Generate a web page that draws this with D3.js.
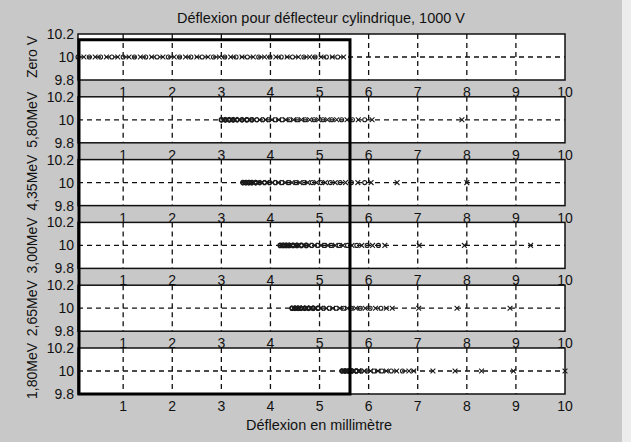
<!DOCTYPE html>
<html><head><meta charset="utf-8">
<script src="https://cdn.jsdelivr.net/npm/d3@7"></script>
<style>html,body{margin:0;padding:0;background:#c8c8c8;}svg{display:block;}</style>
</head><body>
<svg id="chart" width="631" height="442"></svg>
<script>
// ---- data ----
const panelLabels = ["Zero V", "5,80MeV", "4,35MeV", "3,00MeV", "2,65MeV", "1,80MeV"];
const xTicks = [1,2,3,4,5,6,7,8,9,10];
const yTicks = [9.8, 10, 10.2];
const yTickLabels = ["9.8", "10", "10.2"];
const xDomain = [0.08, 10];
const yDomain = [9.8, 10.2];
const yValue = 10;
const zeroV = [0.08,0.2,0.31,0.43,0.54,0.66,0.77,0.89,1.0,1.12,1.23,1.35,1.46,1.58,1.69,1.81,1.92,2.04,2.15,2.27,2.38,2.5,2.61,2.73,2.84,2.96,3.07,3.19,3.3,3.42,3.53,3.65,3.76,3.88,3.99,4.11,4.22,4.34,4.45,4.57,4.68,4.8,4.91,5.03,5.14,5.26,5.37,5.49];
const mev580 = [3.0,3.04,3.08,3.12,3.16,3.2,3.24,3.28,3.32,3.37,3.42,3.47,3.52,3.57,3.62,3.67,3.72,3.78,3.84,3.9,3.96,4.03,4.1,4.17,4.24,4.31,4.39,4.47,4.55,4.63,4.71,4.8,4.89,4.98,5.07,5.16,5.25,5.35,5.45,5.56,5.67,5.79,5.92,6.07,7.9];
const mev435 = [3.44,3.47,3.5,3.53,3.56,3.59,3.62,3.66,3.7,3.74,3.78,3.83,3.88,3.93,3.98,4.04,4.1,4.16,4.23,4.3,4.37,4.44,4.52,4.6,4.68,4.76,4.85,4.94,5.03,5.12,5.22,5.32,5.42,5.53,5.65,5.78,5.92,6.05,6.58,8.0];
const mev300 = [4.2,4.23,4.26,4.29,4.32,4.35,4.38,4.42,4.46,4.5,4.54,4.58,4.63,4.68,4.73,4.78,4.84,4.9,4.96,5.03,5.1,5.17,5.24,5.32,5.4,5.48,5.57,5.66,5.76,5.86,5.97,6.08,6.2,6.33,7.03,7.95,9.3];
const mev265 = [4.44,4.47,4.5,4.53,4.56,4.59,4.62,4.66,4.7,4.74,4.78,4.82,4.87,4.92,4.97,5.02,5.08,5.14,5.2,5.27,5.34,5.41,5.49,5.57,5.65,5.74,5.83,5.93,6.03,6.14,6.25,6.36,6.48,7.02,7.8,8.88];
const mev180 = [5.46,5.49,5.52,5.55,5.58,5.62,5.66,5.7,5.75,5.8,5.85,5.91,5.97,6.04,6.11,6.19,6.27,6.36,6.46,6.57,6.69,6.82,6.92,7.31,7.76,8.3,8.95,10.0];
const series = [zeroV, mev580, mev435, mev300, mev265, mev180];
const boxX = [0.08, 5.6];     // hand-drawn annotation box (data units)
const boxYTop = 10.15;         // in first panel
const boxYBottom = 9.8;        // in last panel
const title = "Déflexion pour déflecteur cylindrique, 1000 V";
const xLabel = "Déflexion en millimètre";

// ---- layout ----
const svg = d3.select("#chart");
const W = 631, H = 442;
const left = 78, right = 565, top0 = 34, step = 62.8, ph = 46;
const font = "Arial, 'Liberation Sans', Helvetica, sans-serif";

svg.append("rect").attr("width",W).attr("height",H).attr("fill","#c8c8c8");
svg.append("rect").attr("x",622).attr("width",W-622).attr("height",H).attr("fill","#ececec");

const x = d3.scaleLinear().domain(xDomain).range([left, right]);

let yScales = [];
series.forEach((data, i) => {
  const pt = top0 + i*step, pb = pt + ph;
  const y = d3.scaleLinear().domain(yDomain).range([pb, pt]);
  yScales.push(y);
  const g = svg.append("g");
  g.append("rect").attr("x",left).attr("y",pt).attr("width",right-left).attr("height",ph).attr("fill","#fff");
  // vertical grid
  g.selectAll(".vg").data(xTicks.filter(t => t < 10)).enter().append("line")
    .attr("x1",d=>x(d)).attr("x2",d=>x(d)).attr("y1",pt).attr("y2",pb)
    .attr("stroke","#111").attr("stroke-width",1.3).attr("stroke-dasharray","5,4");
  // horizontal grid at 10
  g.append("line").attr("x1",left).attr("x2",right).attr("y1",y(yValue)).attr("y2",y(yValue))
    .attr("stroke","#111").attr("stroke-width",1.3).attr("stroke-dasharray","5,4");
  // markers
  const mg = g.append("g");
  data.forEach((v, j) => {
    const cx = x(v), cy = y(yValue);
    const gap = (j+1 < data.length) ? data[j+1]-v : 1;
    const dense = gap < 0.2 && (j % 2 === 0);
    const sw = gap < 0.05 ? 1.6 : 1.1;
    if (dense) {
      mg.append("circle").attr("cx",cx).attr("cy",cy).attr("r",2).attr("fill","none").attr("stroke","#1a1a1a").attr("stroke-width",sw);
    } else {
      const s = 2.4;
      mg.append("path").attr("d",`M${cx-s},${cy-s}L${cx+s},${cy+s}M${cx-s},${cy+s}L${cx+s},${cy-s}`)
        .attr("stroke","#1a1a1a").attr("stroke-width",sw);
    }
  });
  // border
  g.append("rect").attr("x",left).attr("y",pt).attr("width",right-left).attr("height",ph)
    .attr("fill","none").attr("stroke","#111").attr("stroke-width",1.5);
  // y tick labels
  g.selectAll(".yl").data(yTicks).enter().append("text")
    .attr("x",left-4).attr("y",d=>y(d)).attr("dy","0.36em").attr("text-anchor","end")
    .attr("font-family",font).attr("font-size",14).attr("fill","#111")
    .text((d,k)=>yTickLabels[k]);
  // x tick labels
  g.selectAll(".xl").data(xTicks).enter().append("text")
    .attr("x",d=>x(d)).attr("y",pb+17).attr("text-anchor","middle")
    .attr("font-family",font).attr("font-size",14).attr("fill","#111").text(d=>d);
  // panel label
  svg.append("text").attr("transform",`translate(37,${y(yValue)}) rotate(-90)`)
    .attr("text-anchor","middle").attr("font-family",font).attr("font-size",14).attr("fill","#111")
    .text(panelLabels[i]);
});

svg.append("text").attr("x",321).attr("y",23).attr("text-anchor","middle")
  .attr("font-family",font).attr("font-size",14).attr("fill","#111")
  .attr("textLength",288).attr("lengthAdjust","spacingAndGlyphs").text(title);
svg.append("text").attr("x",319).attr("y",430).attr("text-anchor","middle")
  .attr("font-family",font).attr("font-size",14).attr("fill","#111")
  .attr("textLength",146).attr("lengthAdjust","spacingAndGlyphs").text(xLabel);

// annotation box
const yT = yScales[0](boxYTop), yB = yScales[5](boxYBottom);
svg.append("rect").attr("x",x(boxX[0])+1).attr("y",yT).attr("width",x(boxX[1])-x(boxX[0])).attr("height",yB-yT)
  .attr("fill","none").attr("stroke","#000").attr("stroke-width",3);
</script>
</body></html>
